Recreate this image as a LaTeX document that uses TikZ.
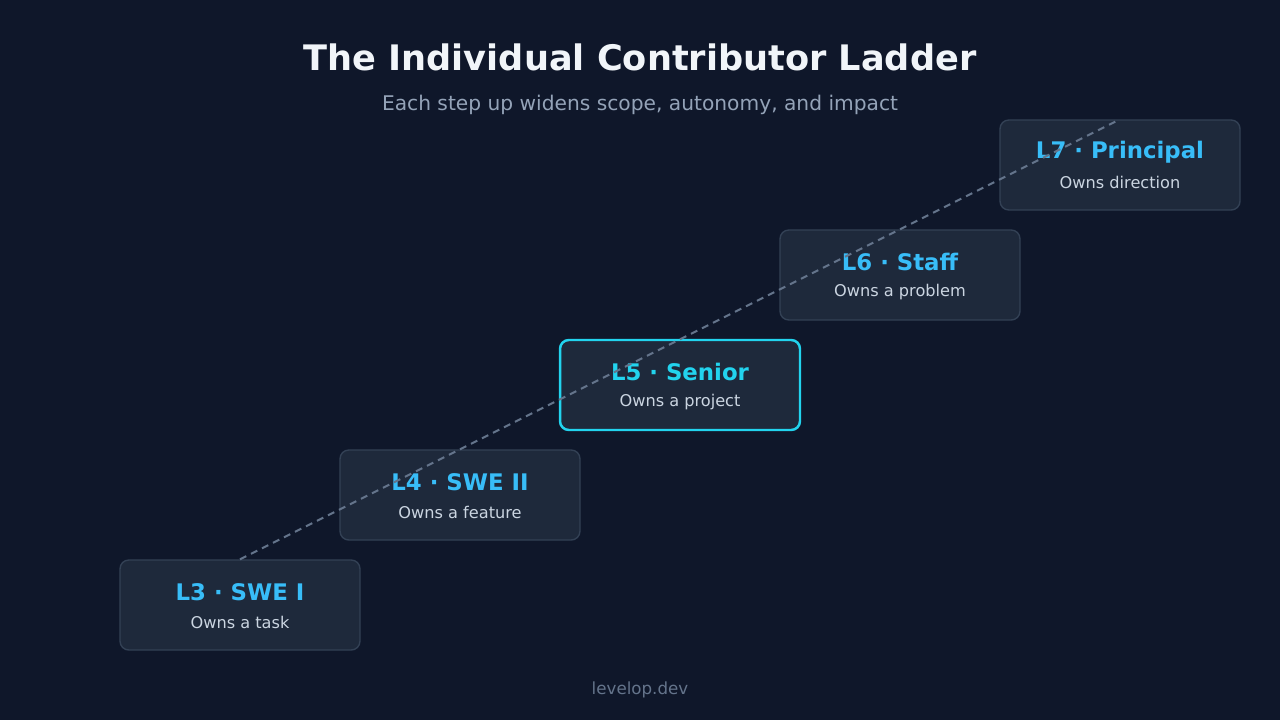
\documentclass[tikz,border=0pt]{standalone}
\usepackage{fontspec}
\setmainfont{DejaVu Sans}
\usetikzlibrary{positioning,calc}
\definecolor{ladderbg}{HTML}{0F172A}
\definecolor{stepfill}{HTML}{1E293B}
\definecolor{stepedge}{HTML}{334155}
\definecolor{stepsky}{HTML}{38BDF8}
\definecolor{stepcyan}{HTML}{22D3EE}
\definecolor{steptext}{HTML}{CBD5E1}
\definecolor{headtext}{HTML}{F1F5F9}
\definecolor{subtext}{HTML}{94A3B8}
\definecolor{dimtext}{HTML}{64748B}
\tikzset{
  rung/.style={draw=stepedge, line width=0.8pt, fill=stepfill, rounded corners=5pt,
    minimum width=4.8cm, minimum height=1.8cm},
  rungtitle/.style={text=stepsky, font=\fontsize{13}{15}\selectfont\bfseries},
  rungnote/.style={text=steptext, font=\fontsize{9.2}{11}\selectfont}
}
\begin{document}
\begin{tikzpicture}[x=0.02cm,y=-0.02cm]
				\fill[ladderbg] (0,0) rectangle (1280,720);
				\useasboundingbox (0,0) rectangle (1280,720);
				
				% Heading
				\node[text=headtext, font=\fontsize{20}{24}\selectfont\bfseries] (title) at (640,57) {The Individual Contributor Ladder};
				\node[text=subtext, font=\fontsize{11.5}{14}\selectfont] (subtitle) at (640,105) {Each step up widens scope, autonomy, and impact};
				
				% Ladder rungs
				\node[rung] (l3) at (240,605) {};
				\node[rung] (l4) at (460,495) {};
				\node[rung, draw=stepcyan, line width=1.4pt] (l5) at (680,385) {};
				\node[rung] (l6) at (900,275) {};
				\node[rung] (l7) at (1120,165) {};
				
				% Rung labels
				\node[rungtitle] (t3) at ($(l3)+(0,-13)$) {L3 · SWE I};
				\node[rungnote] (n3) at ($(l3)+(0,17)$) {Owns a task};
				\node[rungtitle] (t4) at ($(l4)+(0,-13)$) {L4 · SWE II};
				\node[rungnote] (n4) at ($(l4)+(0,17)$) {Owns a feature};
				\node[rungtitle, text=stepcyan] (t5) at ($(l5)+(0,-13)$) {L5 · Senior};
				\node[rungnote] (n5) at ($(l5)+(0,17)$) {Owns a project};
				\node[rungtitle] (t6) at ($(l6)+(0,-13)$) {L6 · Staff};
				\node[rungnote] (n6) at ($(l6)+(0,17)$) {Owns a problem};
				\node[rungtitle] (t7) at ($(l7)+(0,-13)$) {L7 · Principal};
				\node[rungnote] (n7) at ($(l7)+(0,17)$) {Owns direction};
				
				% Rising guide line
				\draw[dimtext, line width=1.2pt, dash pattern=on 4pt off 3pt] (l3.north) -- (l7.north);
				
				\node[text=dimtext, font=\fontsize{9.5}{11}\selectfont] (footer) at (640,690) {levelop.dev};
			\end{tikzpicture}
\end{document}
